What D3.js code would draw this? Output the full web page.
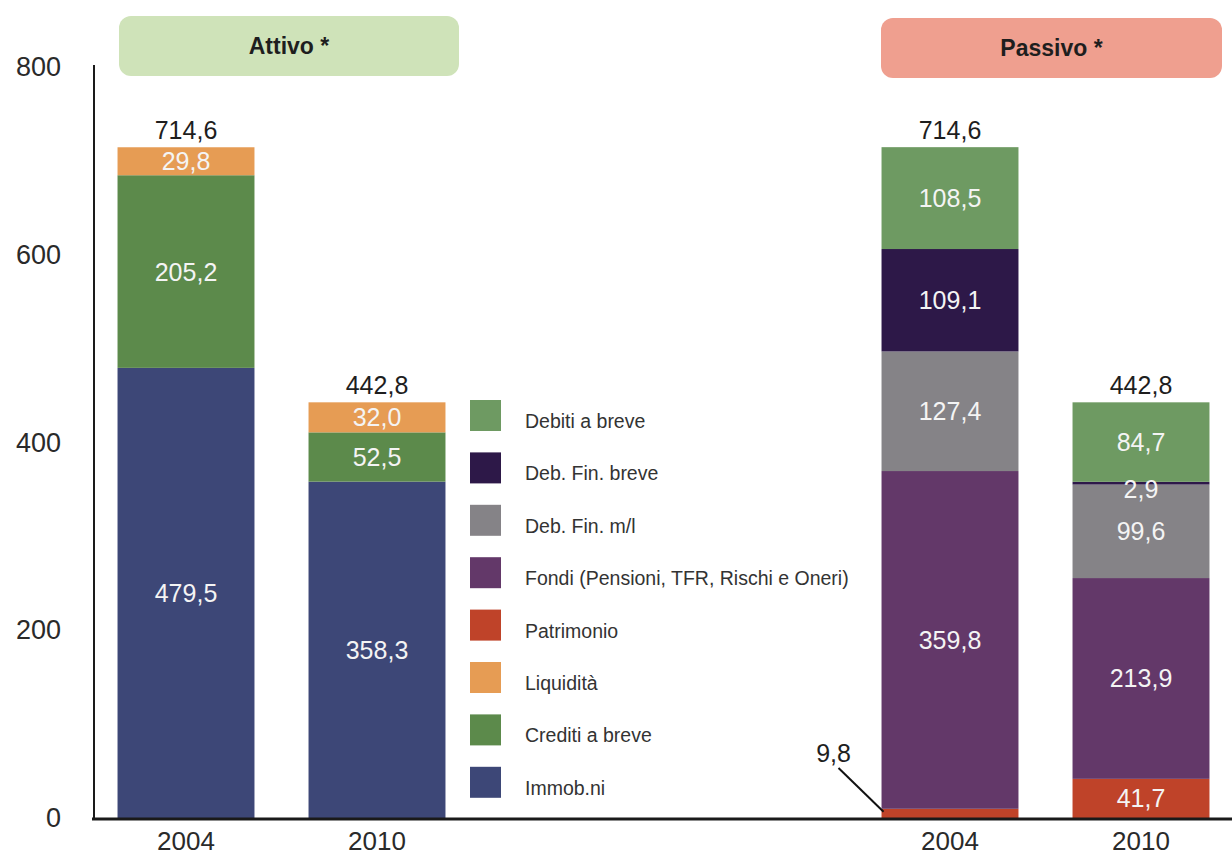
<!DOCTYPE html>
<html>
<head>
<meta charset="utf-8">
<script src="https://cdn.jsdelivr.net/npm/d3@7/dist/d3.min.js"></script>
<style>
  html, body { margin: 0; padding: 0; background: #ffffff; }
  svg { display: block; font-family: "Liberation Sans", Arial, Helvetica, sans-serif; }
</style>
</head>
<body>
<svg id="chart" width="1232" height="857"></svg>
<script>
// ---- Data ----
const panelTitles = ["Attivo *", "Passivo *"];
const years = ["2004", "2010"];
const barKeys = ["A2004", "A2010", "gap1", "gap2", "P2004", "P2010"];

const attivoSeries = ["Immob.ni", "Crediti a breve", "Liquidità"];
const attivo2004 = [479.5, 205.2, 29.8];
const attivo2010 = [358.3, 52.5, 32.0];

const passivoSeries = ["Patrimonio", "Fondi (Pensioni, TFR, Rischi e Oneri)", "Deb. Fin. m/l", "Deb. Fin. breve", "Debiti a breve"];
const passivo2004 = [9.8, 359.8, 127.4, 109.1, 108.5];
const passivo2010 = [41.7, 213.9, 99.6, 2.9, 84.7];

const totals = [714.6, 442.8, 714.6, 442.8];

const legendOrder = ["Debiti a breve", "Deb. Fin. breve", "Deb. Fin. m/l", "Fondi (Pensioni, TFR, Rischi e Oneri)", "Patrimonio", "Liquidità", "Crediti a breve", "Immob.ni"];
const seriesColors = {
  "Debiti a breve": "#6e9a62",
  "Deb. Fin. breve": "#2d1848",
  "Deb. Fin. m/l": "#858387",
  "Fondi (Pensioni, TFR, Rischi e Oneri)": "#633869",
  "Patrimonio": "#bf4329",
  "Liquidità": "#e69c54",
  "Crediti a breve": "#5c8a4b",
  "Immob.ni": "#3d4777"
};
const yTicks = [0, 200, 400, 600, 800];

// ---- Setup ----
const svg = d3.select("#chart");
const fmt = v => d3.format(".1f")(v).replace(".", ",");

const x = d3.scaleBand().domain(barKeys).range([90.5, 1236.5]).paddingInner(0.283).paddingOuter(0.1415);
const y = d3.scaleLinear().domain([0, 800]).range([818, 67]);

const bars = [
  { key: "A2004", year: years[0], series: attivoSeries, values: attivo2004, total: totals[0] },
  { key: "A2010", year: years[1], series: attivoSeries, values: attivo2010, total: totals[1] },
  { key: "P2004", year: years[0], series: passivoSeries, values: passivo2004, total: totals[2] },
  { key: "P2010", year: years[1], series: passivoSeries, values: passivo2010, total: totals[3] }
];

// Title boxes
const titleBoxes = [
  { text: panelTitles[0], x0: 119, x1: 459, y0: 16, y1: 76, fill: "#cfe3b9" },
  { text: panelTitles[1], x0: 881, x1: 1222, y0: 18, y1: 78, fill: "#ef9f8f" }
];
const tb = svg.append("g");
tb.selectAll("rect").data(titleBoxes).join("rect")
  .attr("x", d => d.x0).attr("y", d => d.y0)
  .attr("width", d => d.x1 - d.x0).attr("height", d => d.y1 - d.y0)
  .attr("rx", 12).attr("fill", d => d.fill);
tb.selectAll("text").data(titleBoxes).join("text")
  .attr("x", d => (d.x0 + d.x1) / 2).attr("y", d => d.y0 + 38)
  .attr("text-anchor", "middle").attr("font-weight", "bold")
  .attr("font-size", 23).attr("fill", "#1e1e1e").text(d => d.text);

// Segments
bars.forEach(b => {
  let cum = 0;
  const segs = b.values.map((v, i) => {
    const s = { name: b.series[i], v: v, y0: cum, y1: cum + v };
    cum += v;
    return s;
  });
  const g = svg.append("g");
  const x0 = x(b.key), bw = x.bandwidth();
  g.selectAll("rect").data(segs).join("rect")
    .attr("x", x0).attr("width", bw)
    .attr("y", d => y(d.y1)).attr("height", d => y(d.y0) - y(d.y1))
    .attr("fill", d => seriesColors[d.name]);
  segs.forEach(s => {
    const cy = (y(s.y0) + y(s.y1)) / 2;
    if (s.v < 5) {
      g.append("text").attr("x", x0 + bw / 2).attr("y", cy + 6)
        .attr("dy", "0.36em").attr("text-anchor", "middle")
        .attr("font-size", 25).attr("fill", "#f4f4f4").text(fmt(s.v));
    } else if (s.v < 15) {
      g.append("line")
        .attr("x1", x0 - 43).attr("y1", y(0) - 50)
        .attr("x2", x0 + 2).attr("y2", y(s.y1) + 3)
        .attr("stroke", "#111").attr("stroke-width", 2);
      g.append("text").attr("x", x0 - 48).attr("y", y(0) - 56)
        .attr("text-anchor", "middle").attr("font-size", 25)
        .attr("fill", "#1e1e1e").text(fmt(s.v));
    } else {
      g.append("text").attr("x", x0 + bw / 2).attr("y", cy)
        .attr("dy", "0.36em").attr("text-anchor", "middle")
        .attr("font-size", 25).attr("fill", "#f4f4f4").text(fmt(s.v));
    }
  });
  g.append("text").attr("x", x0 + bw / 2).attr("y", y(b.total) - 8)
    .attr("text-anchor", "middle").attr("font-size", 25)
    .attr("fill", "#1e1e1e").text(fmt(b.total));
  // year label
  svg.append("text").attr("x", x0 + bw / 2).attr("y", 850)
    .attr("text-anchor", "middle").attr("font-size", 26)
    .attr("fill", "#2a2a2a").text(b.year);
});

// Y axis
const yAxis = d3.axisLeft(y).tickValues(yTicks).tickSize(0).tickPadding(0).tickFormat(d3.format("d"));
const ya = svg.append("g").attr("transform", "translate(61,0)").call(yAxis);
ya.select(".domain").remove();
ya.selectAll("text").attr("font-size", 27).attr("fill", "#2a2a2a")
  .attr("font-family", "Liberation Sans, Arial, sans-serif");

svg.append("line").attr("x1", 94).attr("x2", 94).attr("y1", 65).attr("y2", y(0))
  .attr("stroke", "#1a1a1a").attr("stroke-width", 2);
svg.append("line").attr("x1", 92).attr("x2", 1232).attr("y1", y(0) + 1).attr("y2", y(0) + 1)
  .attr("stroke", "#1a1a1a").attr("stroke-width", 3);

// Legend
const lg = svg.append("g").attr("transform", "translate(470,400)");
const li = lg.selectAll("g").data(legendOrder).join("g")
  .attr("transform", (d, i) => `translate(0,${i * 52.4})`);
li.append("rect").attr("width", 31).attr("height", 31).attr("fill", d => seriesColors[d]);
li.append("text").attr("x", 55).attr("y", 28)
  .attr("font-size", 19.5).attr("fill", "#333").text(d => d);
</script>
</body>
</html>
